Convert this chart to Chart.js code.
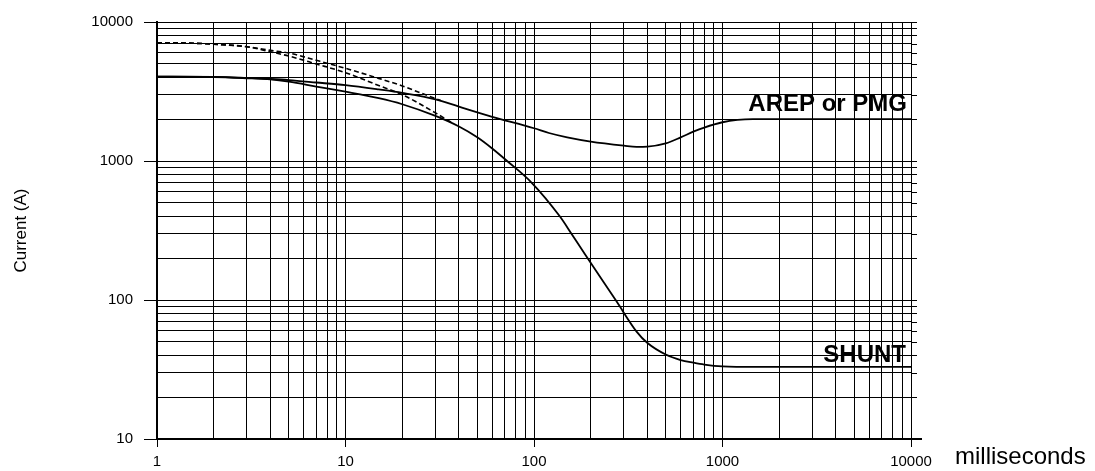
<!DOCTYPE html>
<html><head><meta charset="utf-8">
<script src="https://cdn.jsdelivr.net/npm/chart.js@4.4.0/dist/chart.umd.min.js"></script>
<style>html,body{margin:0;padding:0;background:#fff;}#wrap{width:1095px;height:471px;position:relative;}</style>
</head><body><div id="wrap"><canvas id="c"></canvas></div>
<script>
// Tick values (grid lines) and labelled decades
const xTickValues = [1,2,3,4,5,6,7,8,9,10,20,30,40,50,60,70,80,90,100,200,300,400,500,600,700,800,900,1000,2000,3000,4000,5000,6000,7000,8000,9000,10000];
const yTickValues = [10,20,30,40,50,60,70,80,90,100,200,300,400,500,600,700,800,900,1000,2000,3000,4000,5000,6000,7000,8000,9000,10000];
const xLabels = [1,10,100,1000,10000];
const yLabels = [10,100,1000,10000];

// AREP or PMG (solid)
const arepX = [1,2,3,4,5,7,10,15,20,30,40,60,100,120,150,200,300,350,400,500,600,700,800,1000,1200,1450,2000,10000];
const arepY = [4040,4030,3960,3890,3820,3670,3510,3270,3090,2780,2460,2080,1720,1590,1480,1380,1290,1265,1270,1340,1480,1625,1740,1900,1975,2000,2000,2000];
// AREP or PMG, dashed (boosted start)
const arepDashX = [1,1.5,2,3,4,5,7,10,15,20,25,32];
const arepDashY = [7100,7050,6920,6640,6250,5980,5300,4640,3930,3470,3090,2720];
// SHUNT (solid)
const shuntX = [1,2,3,4,5,7,10,15,20,30,40,50,60,72,97,137,158,186,275,351,400,500,600,700,800,1000,1500,10000];
const shuntY = [4040,4020,3940,3860,3720,3430,3150,2830,2560,2110,1770,1480,1230,1000,700,400,300,214,97,59,49,40.5,37,35.4,34.3,33.3,33,33];
// SHUNT, dashed (boosted start)
const shuntDashX = [1,1.5,2,3,4,5,7,10,15,20,30,37];
const shuntDashY = [7100,7050,6920,6640,6100,5690,4990,4320,3490,3000,2220,1870];

const annTexts = ['AREP or PMG','SHUNT'];
const annX = [10000,10000];
const annY = [2000,33];
const xTitle = 'milliseconds';
const yTitle = 'Current (A)';

const FONT = '"Liberation Sans", Arial, Helvetica, sans-serif';
const pts = (xs, ys) => xs.map((v,i)=>({x:v,y:ys[i]}));

const lineDs = (label, xs, ys, dash) => ({
  label, data: pts(xs, ys), borderColor:'#000', borderWidth: dash?1.6:1.8,
  borderDash: dash?[5,3]:[], pointRadius:0, fill:false,
  cubicInterpolationMode:'monotone'
});

const textPlugin = {
  id:'texts',
  afterDraw(chart){
    const {ctx} = chart; const xs = chart.scales.x, ys = chart.scales.y;
    ctx.save();
    // extend horizontal grid lines slightly past the right edge
    ctx.strokeStyle='#000'; ctx.lineWidth=1;
    yTickValues.forEach(v=>{
      const py = Math.round(ys.getPixelForValue(v))+0.5;
      ctx.beginPath(); ctx.moveTo(xs.right, py); ctx.lineTo(xs.right+6, py); ctx.stroke();
    });
    ctx.lineWidth=2;
    const pb = Math.round(ys.getPixelForValue(10));
    ctx.beginPath(); ctx.moveTo(xs.right, pb); ctx.lineTo(xs.right+11, pb); ctx.stroke();
    ctx.fillStyle='#000';
    ctx.font = 'bold 24px '+FONT;
    ctx.textAlign='right'; ctx.textBaseline='alphabetic';
    ctx.fillText(annTexts[0], xs.getPixelForValue(annX[0])-4, ys.getPixelForValue(annY[0])-8);
    ctx.fillText(annTexts[1], xs.getPixelForValue(annX[1])-5, ys.getPixelForValue(annY[1])-5);
    ctx.font = '24px '+FONT;
    ctx.textAlign='left'; ctx.textBaseline='middle';
    ctx.fillText(xTitle, xs.right+44, ys.bottom+18);
    ctx.restore();
  }
};

new Chart(document.getElementById('c'), {
  type:'line',
  data:{ datasets:[
    lineDs('AREP or PMG', arepX, arepY, false),
    lineDs('SHUNT', shuntX, shuntY, false),
    lineDs('AREP or PMG (dashed)', arepDashX, arepDashY, true),
    lineDs('SHUNT (dashed)', shuntDashX, shuntDashY, true)
  ]},
  options:{
    responsive:true, maintainAspectRatio:false, animation:false,
    devicePixelRatio:1,
    layout:{padding:{left:0, top:22, right:184, bottom:0}},
    plugins:{legend:{display:false}, tooltip:{enabled:false}},
    scales:{
      x:{
        type:'logarithmic', min:1, max:10000,
        afterBuildTicks:(s)=>{ s.ticks = xTickValues.map(v=>({value:v})); },
        afterFit:(s)=>{ s.height = 32; },
        grid:{color:'#000', lineWidth:1, tickLength:8,
          tickColor:(c)=> (c.tick && xLabels.includes(c.tick.value)) ? '#000' : 'rgba(0,0,0,0)'},
        border:{color:'#000', width:2},
        ticks:{autoSkip:false, maxRotation:0, padding:6, color:'#000',
          font:{family:FONT, size:15},
          callback:(v)=> xLabels.includes(v) ? String(v) : ''}
      },
      y:{
        type:'logarithmic', min:10, max:10000,
        afterBuildTicks:(s)=>{ s.ticks = yTickValues.map(v=>({value:v})); },
        afterFit:(s)=>{ s.width = 157; },
        grid:{color:'#000', lineWidth:1, tickLength:13,
          tickColor:(c)=> (c.tick && yLabels.includes(c.tick.value)) ? '#000' : 'rgba(0,0,0,0)'},
        border:{color:'#000', width:2},
        title:{display:true, text:yTitle, color:'#000', font:{family:FONT, size:17}, padding:{top:11,bottom:0}},
        ticks:{autoSkip:false, padding:11, color:'#000',
          font:{family:FONT, size:15},
          callback:(v)=> yLabels.includes(v) ? String(v) : ''}
      }
    }
  },
  plugins:[textPlugin]
});
</script></body></html>
